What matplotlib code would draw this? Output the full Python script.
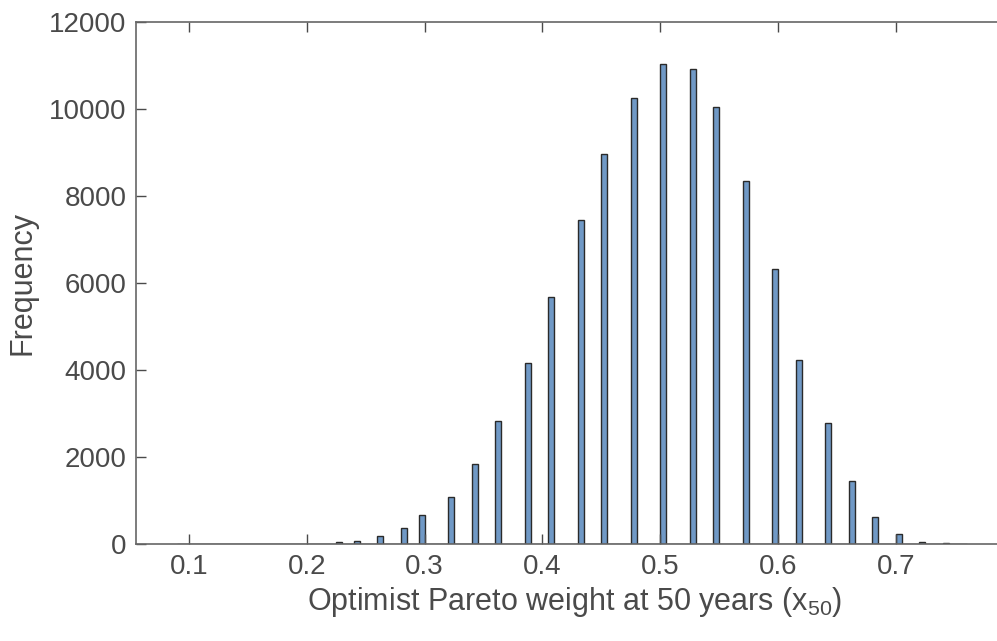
import numpy as np
import matplotlib
matplotlib.use('Agg')
import matplotlib.pyplot as plt

plt.rcParams['font.family'] = ['Liberation Sans', 'DejaVu Sans']
plt.rcParams['mathtext.fontset'] = 'custom'
plt.rcParams['mathtext.rm'] = 'Liberation Sans'
plt.rcParams['mathtext.it'] = 'Liberation Sans'

# centros de los bins con datos y sus frecuencias
centros = [0.2075, 0.2275, 0.2425, 0.2625, 0.2825, 0.2975, 0.3225, 0.3425,
           0.3625, 0.3875, 0.4075, 0.4325, 0.4525, 0.4775, 0.5025, 0.5275,
           0.5475, 0.5725, 0.5975, 0.6175, 0.6425, 0.6625, 0.6825, 0.7025,
           0.7225, 0.7425]
frecuencias = [10, 40, 75, 190, 370, 660, 1080, 1850,
               2830, 4150, 5680, 7450, 8970, 10250, 11030, 10930,
               10050, 8350, 6330, 4230, 2780, 1460, 630, 240,
               55, 12]

# rango del histograma y ancho de bin
x_min, x_max, ancho = 0.09, 0.76, 0.005
bordes = np.arange(x_min, x_max + ancho / 2, ancho)

gris = '#4a4a4a'

fig = plt.figure(figsize=(9.97, 6.41), dpi=100)
ax = fig.add_axes([0.1364, 0.1513, 0.8803, 0.8144])

ax.hist(centros, bins=bordes, weights=frecuencias, color='#7099c6',
        edgecolor='#2a2a2a', linewidth=1.0)

ax.set_xlim(0.055, 0.8)
ax.set_ylim(0, 12000)
ax.set_xticks([0.1, 0.2, 0.3, 0.4, 0.5, 0.6, 0.7])
ax.set_xticklabels(['0.1', '0.2', '0.3', '0.4', '0.5', '0.6', '0.7'])
ax.set_yticks(range(0, 12001, 2000))

ax.tick_params(direction='in', length=7, width=1, colors=gris,
               labelsize=20, top=True, right=True, pad=7)
for s in ax.spines.values():
    s.set_color('#666666')
    s.set_linewidth(1.2)

ax.set_ylabel('Frequency', fontsize=22, color=gris, labelpad=8)
ax.set_xlabel(r'Optimist Pareto weight at 50 years (x$_{50}$)', fontsize=22,
              color=gris, labelpad=4)

plt.savefig('out.png', dpi=100)
